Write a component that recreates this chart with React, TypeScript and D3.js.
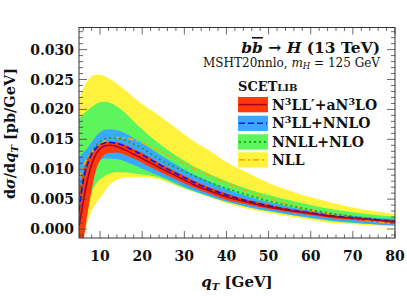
import * as d3 from 'd3';

// qT grid [GeV]
const qT = [5, 6, 7, 8, 9, 10, 11, 12, 14, 16, 18, 20, 24, 28, 32, 36, 40, 45, 50, 55, 60, 65, 70, 75, 80];

// N3LL'+aN3LO
const n3llpCentral = [0.0005, 0.0045, 0.0082, 0.0108, 0.0125, 0.0134, 0.0139, 0.0140, 0.0138, 0.0132, 0.0125, 0.0118, 0.0103, 0.0089, 0.0075, 0.0064, 0.0054, 0.0045, 0.0037, 0.0031, 0.0026, 0.0021, 0.0018, 0.0015, 0.0012];
const n3llpUpper = [0.0060, 0.0095, 0.0118, 0.0130, 0.0137, 0.0142, 0.0145, 0.0146, 0.0145, 0.0141, 0.0134, 0.0127, 0.0111, 0.0096, 0.0082, 0.0070, 0.0060, 0.0049, 0.0041, 0.0034, 0.0029, 0.0024, 0.0020, 0.0017, 0.0015];
const n3llpLower = [-0.0015, -0.0015, 0.0025, 0.0065, 0.0098, 0.0115, 0.0124, 0.0127, 0.0128, 0.0124, 0.0118, 0.0111, 0.0096, 0.0083, 0.0070, 0.0059, 0.0049, 0.0041, 0.0034, 0.0028, 0.0023, 0.0018, 0.0015, 0.0012, 0.0009];

// N3LL+NNLO
const n3llCentral = [0.0030, 0.0080, 0.0108, 0.0125, 0.0135, 0.0141, 0.0144, 0.0145, 0.0143, 0.0138, 0.0131, 0.0124, 0.0108, 0.0093, 0.0079, 0.0067, 0.0057, 0.0047, 0.0039, 0.0032, 0.0027, 0.0022, 0.0019, 0.0016, 0.0013];
const n3llUpper = [0.0120, 0.0128, 0.0135, 0.0145, 0.0155, 0.0162, 0.0166, 0.0167, 0.0165, 0.0160, 0.0152, 0.0144, 0.0125, 0.0108, 0.0092, 0.0079, 0.0067, 0.0055, 0.0045, 0.0037, 0.0031, 0.0026, 0.0022, 0.0019, 0.0017];
const n3llLower = [0.0000, 0.0040, 0.0080, 0.0100, 0.0110, 0.0115, 0.0118, 0.0118, 0.0117, 0.0113, 0.0107, 0.0101, 0.0089, 0.0077, 0.0065, 0.0055, 0.0046, 0.0037, 0.0030, 0.0024, 0.0019, 0.0014, 0.0011, 0.0008, 0.0006];

// NNLL+NLO
const nnllCentral = [0.0045, 0.0085, 0.0112, 0.0128, 0.0139, 0.0146, 0.0150, 0.0152, 0.0152, 0.0148, 0.0142, 0.0135, 0.0117, 0.0103, 0.0090, 0.0078, 0.0068, 0.0057, 0.0047, 0.0039, 0.0032, 0.0026, 0.0021, 0.0017, 0.0014];
const nnllUpper = [0.0185, 0.0192, 0.0198, 0.0204, 0.0209, 0.0212, 0.0213, 0.0212, 0.0205, 0.0194, 0.0180, 0.0167, 0.0143, 0.0123, 0.0106, 0.0092, 0.0080, 0.0067, 0.0057, 0.0048, 0.0040, 0.0033, 0.0028, 0.0024, 0.0021];
const nnllLower = [-0.0015, 0.0010, 0.0040, 0.0062, 0.0075, 0.0083, 0.0088, 0.0092, 0.0095, 0.0095, 0.0093, 0.0091, 0.0086, 0.0074, 0.0063, 0.0054, 0.0045, 0.0037, 0.0030, 0.0024, 0.0018, 0.0013, 0.0010, 0.0008, 0.0006];

// NLL
const nllCentral = [0.0085, 0.0105, 0.0118, 0.0128, 0.0136, 0.0142, 0.0147, 0.0150, 0.0153, 0.0152, 0.0149, 0.0144, 0.0131, 0.0117, 0.0102, 0.0089, 0.0077, 0.0063, 0.0051, 0.0041, 0.0032, 0.0025, 0.0018, 0.0013, 0.0009];
const nllUpper = [0.0215, 0.0235, 0.0248, 0.0255, 0.0258, 0.0258, 0.0256, 0.0252, 0.0243, 0.0232, 0.0220, 0.0209, 0.0190, 0.0169, 0.0148, 0.0131, 0.0112, 0.0094, 0.0077, 0.0064, 0.0053, 0.0044, 0.0036, 0.0030, 0.0025];
const nllLower = [-0.0015, -0.0015, 0.0012, 0.0030, 0.0043, 0.0052, 0.0062, 0.0072, 0.0082, 0.0086, 0.0087, 0.0087, 0.0083, 0.0073, 0.0063, 0.0053, 0.0043, 0.0034, 0.0027, 0.0021, 0.0015, 0.0010, 0.0008, 0.0006, 0.0005];

const xTicks = [10, 20, 30, 40, 50, 60, 70, 80];
const yTicks = [0, 0.005, 0.01, 0.015, 0.02, 0.025, 0.03];

const W = 407;
const H = 296;
const m = { left: 79, right: 395, top: 27.5, bottom: 238 };
const FONT = '"DejaVu Serif", serif';

// drawn back to front
const series = [
  { key: 'nll', c: nllCentral, up: nllUpper, lo: nllLower, fill: '#fff23c', line: '#ffaa00', dash: '6,3,2,3' },
  { key: 'nnll', c: nnllCentral, up: nnllUpper, lo: nnllLower, fill: '#5cf55c', line: '#16a016', dash: '2,3' },
  { key: 'n3ll', c: n3llCentral, up: n3llUpper, lo: n3llLower, fill: '#3aa8ff', line: '#0a14f0', dash: '6,3' },
  { key: 'n3llp', c: n3llpCentral, up: n3llpUpper, lo: n3llpLower, fill: '#ff3a0a', line: '#a8001e', dash: '' },
];

function LegendLabel({ k }: { k: string }) {
  if (k === 'n3llp')
    return (<>N<tspan dy={-5} fontSize={9.5}>3</tspan><tspan dy={5}>LL′+aN</tspan><tspan dy={-5} fontSize={9.5}>3</tspan><tspan dy={5}>LO</tspan></>);
  if (k === 'n3ll')
    return (<>N<tspan dy={-5} fontSize={9.5}>3</tspan><tspan dy={5}>LL+NNLO</tspan></>);
  if (k === 'nnll') return <>NNLL+NLO</>;
  return <>NLL</>;
}

export default function App() {
  const x = d3.scaleLinear().domain([5, 80]).range([m.left, m.right]);
  const y = d3.scaleLinear().domain([-0.0015, 0.0337]).range([m.bottom, m.top]);

  const band = (up: number[], lo: number[]) =>
    d3.area<number>()
      .x((_, i) => x(qT[i]))
      .y0((_, i) => y(lo[i]))
      .y1((_, i) => y(up[i]))
      .curve(d3.curveMonotoneX)(qT) || '';
  const line = (v: number[]) =>
    d3.line<number>()
      .x((_, i) => x(qT[i]))
      .y((_, i) => y(v[i]))
      .curve(d3.curveMonotoneX)(qT) || '';

  const xMinor = d3.range(6, 80, 2).filter((v) => v % 10 !== 0);
  const yMinor = d3.range(-1, 34).map((v) => v / 1000).filter((v) => Math.round(v * 1000) % 5 !== 0);

  const tickCol = '#444';
  const legY = [97, 115.7, 134.3, 152.3];

  return (
    <svg width={W} height={H} style={{ position: 'absolute', left: 0, top: 0, background: '#fff' }} fontFamily={FONT}>
      <defs>
        <clipPath id="plot">
          <rect x={m.left} y={m.top} width={m.right - m.left} height={m.bottom - m.top} />
        </clipPath>
      </defs>
      <g clipPath="url(#plot)">
        {series.map((s) => (
          <path key={s.key + 'b'} d={band(s.up, s.lo)} fill={s.fill} />
        ))}
        {series.map((s) => (
          <path key={s.key + 'l'} d={line(s.c)} fill="none" stroke={s.line} strokeWidth={1.6} strokeDasharray={s.dash} />
        ))}
      </g>

      {/* ticks, inward on all four sides */}
      <g stroke={tickCol} strokeWidth={0.8}>
        {xTicks.map((t) => (
          <g key={'xt' + t}>
            <line x1={x(t)} x2={x(t)} y1={m.bottom} y2={m.bottom - 7} />
            <line x1={x(t)} x2={x(t)} y1={m.top} y2={m.top + 7} />
          </g>
        ))}
        {xMinor.map((t) => (
          <g key={'xm' + t}>
            <line x1={x(t)} x2={x(t)} y1={m.bottom} y2={m.bottom - 3.5} />
            <line x1={x(t)} x2={x(t)} y1={m.top} y2={m.top + 3.5} />
          </g>
        ))}
        {yTicks.map((t) => (
          <g key={'yt' + t}>
            <line x1={m.left} x2={m.left + 8} y1={y(t)} y2={y(t)} />
            <line x1={m.right} x2={m.right - 8} y1={y(t)} y2={y(t)} />
          </g>
        ))}
        {yMinor.map((t) => (
          <g key={'ym' + t}>
            <line x1={m.left} x2={m.left + 4} y1={y(t)} y2={y(t)} />
            <line x1={m.right} x2={m.right - 4} y1={y(t)} y2={y(t)} />
          </g>
        ))}
      </g>
      <rect x={m.left} y={m.top} width={m.right - m.left} height={m.bottom - m.top} fill="none" stroke="#333" strokeWidth={1} />

      {/* tick labels */}
      <g fontSize={14} fontWeight="bold" fill="#111">
        {yTicks.map((t) => (
          <text key={'yl' + t} x={74} y={y(t) + 5} textAnchor="end">{d3.format('.3f')(t)}</text>
        ))}
        {xTicks.map((t) => (
          <text key={'xl' + t} x={x(t)} y={260.5} textAnchor="middle">{t}</text>
        ))}
      </g>

      {/* axis titles */}
      <text x={237} y={287} textAnchor="middle" fontSize={15} fontWeight="bold" fill="#111">
        <tspan fontStyle="italic">q</tspan>
        <tspan fontStyle="italic" fontSize={10} dy={3}>T</tspan>
        <tspan dy={-3}> [GeV]</tspan>
      </text>
      <text transform="translate(15,133.5) rotate(-90)" textAnchor="middle" fontSize={14.5} fontWeight="bold" fill="#111">
        d<tspan fontStyle="italic">σ</tspan>/d<tspan fontStyle="italic">q</tspan>
        <tspan fontStyle="italic" fontSize={10} dy={3}>T</tspan>
        <tspan dy={-3}> [pb/GeV]</tspan>
      </text>

      {/* annotations */}
      <text x={380} y={53} textAnchor="end" fontSize={15.5} fontWeight="bold" fill="#111">
        <tspan fontStyle="italic">b</tspan>
        <tspan fontStyle="italic" textDecoration="overline">b</tspan>
        <tspan> → </tspan>
        <tspan fontStyle="italic">H</tspan>
        <tspan> (13 TeV)</tspan>
      </text>
      <text x={380} y={66.5} textAnchor="end" fontSize={12} fill="#111">
        MSHT20nnlo, <tspan fontStyle="italic">m</tspan>
        <tspan fontStyle="italic" fontSize={8.5} dy={2}>H</tspan>
        <tspan dy={-2}> = 125 GeV</tspan>
      </text>
      <text x={238} y={90.5} fontSize={13} fontWeight="bold" fill="#111">
        SCET<tspan fontSize={10}>LIB</tspan>
      </text>

      {/* legend */}
      {[...series].reverse().map((s, i) => (
        <g key={'lg' + s.key}>
          <rect x={238} y={legY[i]} width={30} height={15.3} fill={s.fill} />
          <line x1={239} x2={267} y1={legY[i] + 7.6} y2={legY[i] + 7.6} stroke={s.line} strokeWidth={1.6} strokeDasharray={s.dash} />
          <text x={272} y={legY[i] + 12.5} fontSize={14} fontWeight="bold" fill="#111">
            <LegendLabel k={s.key} />
          </text>
        </g>
      ))}
    </svg>
  );
}
